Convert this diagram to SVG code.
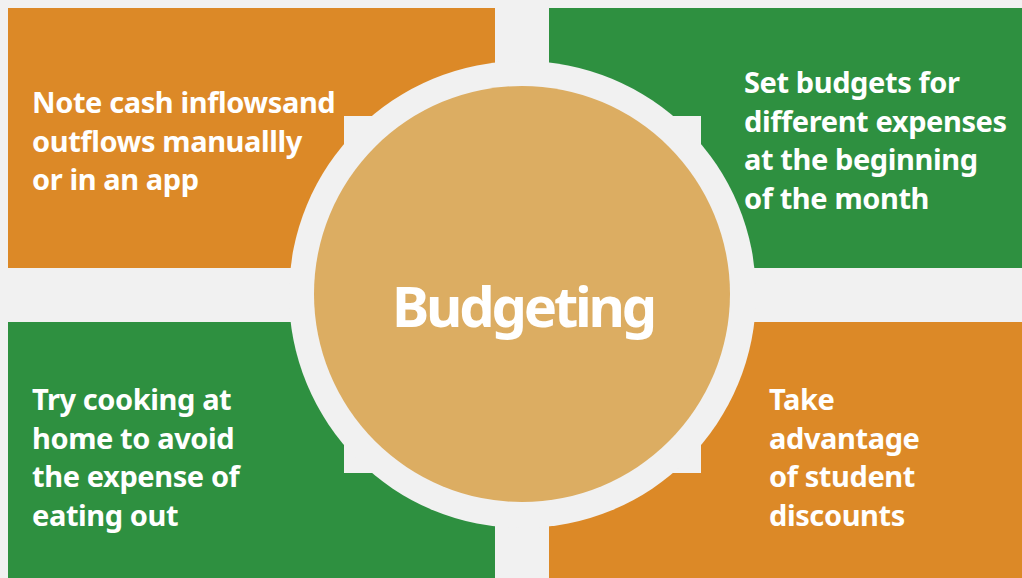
<svg xmlns="http://www.w3.org/2000/svg" width="1022" height="578" viewBox="0 0 1022 578">
<style>
.orange{fill:#dc8927}
.green{fill:#2e9040}
.bg{fill:#f1f1f1}
.t{font-family:"Noto Sans","Open Sans","Liberation Sans",sans-serif;font-weight:700;font-size:29px;letter-spacing:-0.4px;fill:#ffffff}
.title{font-family:"Noto Sans","Open Sans","Liberation Sans",sans-serif;font-weight:700;font-size:56px;letter-spacing:-3.2px;fill:#ffffff}
</style>
<rect x="0" y="0" width="1022" height="578" class="bg"/>
<g id="node-topleft">
<rect x="8" y="8" width="487" height="260" class="orange"/>
<text class="t"><tspan x="32" y="113">Note cash inflowsand</tspan><tspan x="32" y="151.5">outflows manuallly</tspan><tspan x="32" y="190">or in an app</tspan></text>
</g>
<g id="node-topright">
<rect x="549" y="8" width="473" height="260" class="green"/>
<text class="t"><tspan x="744" y="93">Set budgets for</tspan><tspan x="744" y="131.5">different expenses</tspan><tspan x="744" y="170">at the beginning</tspan><tspan x="744" y="208.5">of the month</tspan></text>
</g>
<g id="node-bottomleft">
<rect x="8" y="322" width="487" height="256" class="green"/>
<text class="t"><tspan x="32" y="410">Try cooking at</tspan><tspan x="32" y="448.5">home to avoid</tspan><tspan x="32" y="487">the expense of</tspan><tspan x="32" y="525.5">eating out</tspan></text>
</g>
<g id="node-bottomright">
<rect x="549" y="322" width="473" height="256" class="orange"/>
<text class="t"><tspan x="769" y="410">Take</tspan><tspan x="769" y="448.5">advantage</tspan><tspan x="769" y="487">of student</tspan><tspan x="769" y="525.5">discounts</tspan></text>
</g>
<g id="node-center">
<rect x="344" y="116" width="357" height="357" class="bg"/>
<circle cx="522.5" cy="294.5" r="233.5" class="bg"/>
<circle cx="522" cy="294" r="208" fill="#dcad62"/>
<text class="title" x="523" y="327" text-anchor="middle">Budgeting</text>
</g>
<g id="connectors"></g>
</svg>
